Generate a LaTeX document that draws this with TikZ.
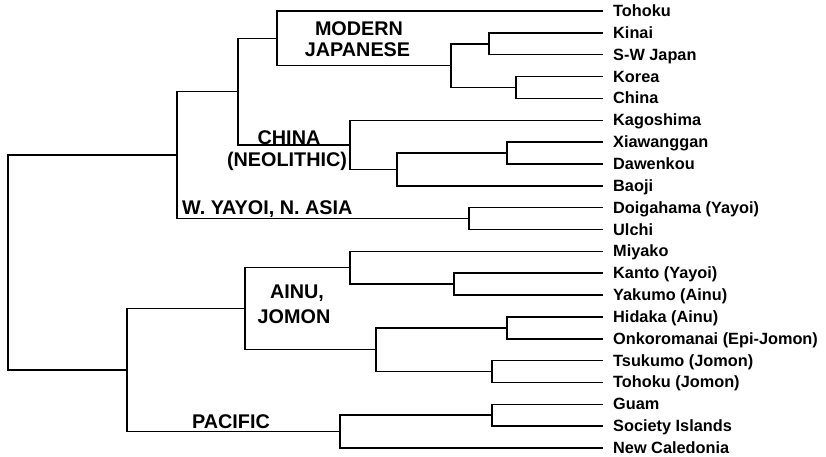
\documentclass[tikz,border=0pt]{standalone}
\usepackage{fontspec}
\setmainfont{Liberation Sans}
\begin{document}
\begin{tikzpicture}[x=1pt,y=-1pt,
  edge/.style={line width=1.5pt,black},
  leaf/.style={font=\bfseries\fontsize{16.3}{18}\selectfont,anchor=base west,inner sep=0pt},
  grp/.style={font=\bfseries\fontsize{19.8}{22}\selectfont,anchor=base,inner sep=0pt}]
\useasboundingbox (0,0) rectangle (826,456);
% leaf ends
\coordinate (t1) at (603,11);
\coordinate (t2) at (603,32.85);
\coordinate (t3) at (603,54.7);
\coordinate (t4) at (603,76.55);
\coordinate (t5) at (603,98.4);
\coordinate (t6) at (603,120.25);
\coordinate (t7) at (603,142.1);
\coordinate (t8) at (603,163.95);
\coordinate (t9) at (603,185.8);
\coordinate (t10) at (603,207.65);
\coordinate (t11) at (603,229.5);
\coordinate (t12) at (603,251.35);
\coordinate (t13) at (603,273.2);
\coordinate (t14) at (603,295.05);
\coordinate (t15) at (603,316.9);
\coordinate (t16) at (603,338.75);
\coordinate (t17) at (603,360.6);
\coordinate (t18) at (603,382.45);
\coordinate (t19) at (603,404.3);
\coordinate (t20) at (603,426.15);
\coordinate (t21) at (603,448);
% internal junctions
\coordinate (kj) at (489,43.8);
\coordinate (kc) at (516,87.5);
\coordinate (mj) at (451,65.6);
\coordinate (tj) at (277,38.3);
\coordinate (xd) at (507,153);
\coordinate (xb) at (397,169.4);
\coordinate (ch) at (350,144.8);
\coordinate (mc) at (238,91.5);
\coordinate (du) at (469,218.6);
\coordinate (as) at (177,155);
\coordinate (ky) at (454,284.1);
\coordinate (mi) at (350,267.7);
\coordinate (ho) at (507,327.8);
\coordinate (tt) at (492,371.5);
\coordinate (hj) at (376,349.7);
\coordinate (aj) at (245,308.7);
\coordinate (gs) at (492,415.2);
\coordinate (pa) at (340,431.6);
\coordinate (ap) at (127,370);
\coordinate (root) at (8,262.5);
% edges
\foreach \p/\c in {kj/t2,kj/t3,kc/t4,kc/t5,mj/kj,mj/kc,tj/t1,tj/mj,
  xd/t7,xd/t8,xb/xd,xb/t9,ch/t6,ch/xb,mc/tj,mc/ch,du/t10,du/t11,as/mc,as/du,
  ky/t13,ky/t14,mi/t12,mi/ky,ho/t15,ho/t16,tt/t17,tt/t18,hj/ho,hj/tt,aj/mi,aj/hj,
  gs/t19,gs/t20,pa/gs,pa/t21,ap/aj,ap/pa,root/as,root/ap}
  \draw[edge] (\p) |- (\c);
% leaf labels
\foreach \i/\t in {1/Tohoku,2/Kinai,3/{S-W Japan},4/Korea,5/China,6/Kagoshima,
  7/Xiawanggan,8/Dawenkou,9/Baoji,10/{Doigahama (Yayoi)},11/Ulchi,12/Miyako,
  13/{Kanto (Yayoi)},14/{Yakumo (Ainu)},15/{Hidaka (Ainu)},16/{Onkoromanai (Epi-Jomon)},
  17/{Tsukumo (Jomon)},18/{Tohoku (Jomon)},19/Guam,20/{Society Islands},21/{New Caledonia}}
  \node[leaf] (l\i) at ([shift={(10pt,-5.5pt)}]t\i) {\t};
% group labels
\node[grp] (g1a) at (359,35) {MODERN};
\node[grp] (g1b) at (357.5,56.7) {JAPANESE};
\node[grp] (g2a) at (289,144) {CHINA};
\node[grp] (g2b) at (287,166.5) {(NEOLITHIC)};
\node[grp,anchor=base west] (g3) at (182,214.3) {W. YAYOI, N. ASIA};
\node[grp] (g4a) at (297,298.7) {AINU,};
\node[grp] (g4b) at (294,323.3) {JOMON};
\node[grp] (g5) at (231,428.3) {PACIFIC};
\end{tikzpicture}
\end{document}
